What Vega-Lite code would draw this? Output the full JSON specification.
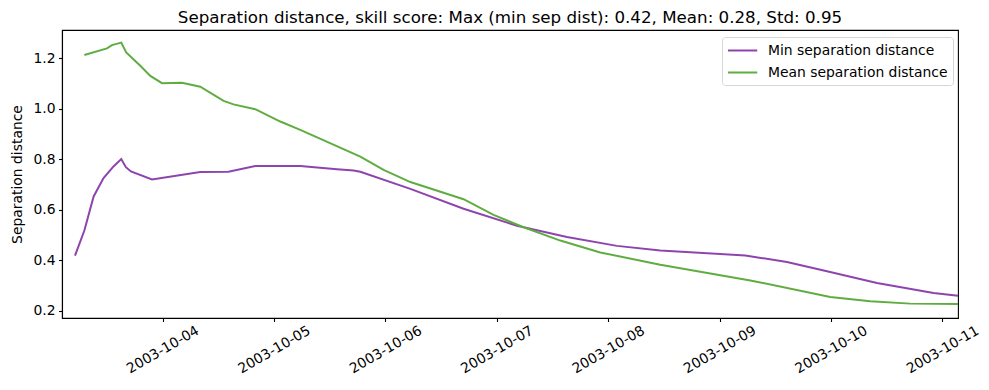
{
  "$schema": "https://vega.github.io/schema/vega-lite/v6.json",
  "autosize": {"type": "none"},
  "width": 896,
  "height": 288,
  "padding": {"left": 62, "top": 30, "right": 31, "bottom": 72},
  "background": "white",
  "config": {
    "font": "DejaVu Sans",
    "view": {"stroke": "black", "strokeWidth": 1.1},
    "axis": {
      "domainColor": "black", "domainWidth": 1.1,
      "tickColor": "black", "tickWidth": 1.1, "tickSize": 3.5,
      "labelColor": "black", "labelFont": "DejaVu Sans", "labelFontSize": 13.9,
      "titleColor": "black", "titleFont": "DejaVu Sans", "titleFontSize": 13.9, "titleFontWeight": "normal",
      "grid": false
    }
  },
  "title": {
    "text": "Separation distance, skill score: Max (min sep dist): 0.42, Mean: 0.28, Std: 0.95",
    "font": "DejaVu Sans", "fontSize": 16.7, "fontWeight": "normal", "color": "black",
    "anchor": "middle", "baseline": "bottom", "offset": 4, "dy": 18
  },
  "data": {
    "values": [
      {"time": "2003-10-03T05:08:00", "value": 0.418, "series": "Min separation distance"},
      {"time": "2003-10-03T07:09:00", "value": 0.518, "series": "Min separation distance"},
      {"time": "2003-10-03T09:09:00", "value": 0.653, "series": "Min separation distance"},
      {"time": "2003-10-03T11:17:00", "value": 0.726, "series": "Min separation distance"},
      {"time": "2003-10-03T13:26:00", "value": 0.772, "series": "Min separation distance"},
      {"time": "2003-10-03T15:06:00", "value": 0.801, "series": "Min separation distance"},
      {"time": "2003-10-03T16:06:00", "value": 0.769, "series": "Min separation distance"},
      {"time": "2003-10-03T17:11:00", "value": 0.752, "series": "Min separation distance"},
      {"time": "2003-10-03T21:43:00", "value": 0.720, "series": "Min separation distance"},
      {"time": "2003-10-04T08:07:00", "value": 0.750, "series": "Min separation distance"},
      {"time": "2003-10-04T14:12:00", "value": 0.751, "series": "Min separation distance"},
      {"time": "2003-10-04T19:58:00", "value": 0.774, "series": "Min separation distance"},
      {"time": "2003-10-05T05:40:00", "value": 0.774, "series": "Min separation distance"},
      {"time": "2003-10-05T13:34:00", "value": 0.761, "series": "Min separation distance"},
      {"time": "2003-10-05T17:10:00", "value": 0.756, "series": "Min separation distance"},
      {"time": "2003-10-05T18:36:00", "value": 0.751, "series": "Min separation distance"},
      {"time": "2003-10-06T05:23:00", "value": 0.683, "series": "Min separation distance"},
      {"time": "2003-10-06T16:51:00", "value": 0.604, "series": "Min separation distance"},
      {"time": "2003-10-07T04:21:00", "value": 0.537, "series": "Min separation distance"},
      {"time": "2003-10-07T15:07:00", "value": 0.492, "series": "Min separation distance"},
      {"time": "2003-10-08T01:54:00", "value": 0.457, "series": "Min separation distance"},
      {"time": "2003-10-08T11:14:00", "value": 0.439, "series": "Min separation distance"},
      {"time": "2003-10-09T05:33:00", "value": 0.419, "series": "Min separation distance"},
      {"time": "2003-10-09T14:31:00", "value": 0.393, "series": "Min separation distance"},
      {"time": "2003-10-09T23:08:00", "value": 0.356, "series": "Min separation distance"},
      {"time": "2003-10-10T09:55:00", "value": 0.310, "series": "Min separation distance"},
      {"time": "2003-10-10T22:06:00", "value": 0.270, "series": "Min separation distance"},
      {"time": "2003-10-11T03:22:00", "value": 0.259, "series": "Min separation distance"},
      {"time": "2003-10-03T07:09:00", "value": 1.214, "series": "Mean separation distance"},
      {"time": "2003-10-03T12:01:00", "value": 1.240, "series": "Mean separation distance"},
      {"time": "2003-10-03T13:06:00", "value": 1.253, "series": "Mean separation distance"},
      {"time": "2003-10-03T15:06:00", "value": 1.263, "series": "Mean separation distance"},
      {"time": "2003-10-03T16:10:00", "value": 1.224, "series": "Mean separation distance"},
      {"time": "2003-10-03T19:12:00", "value": 1.171, "series": "Mean separation distance"},
      {"time": "2003-10-03T21:22:00", "value": 1.131, "series": "Mean separation distance"},
      {"time": "2003-10-03T23:53:00", "value": 1.102, "series": "Mean separation distance"},
      {"time": "2003-10-04T04:11:00", "value": 1.104, "series": "Mean separation distance"},
      {"time": "2003-10-04T08:07:00", "value": 1.088, "series": "Mean separation distance"},
      {"time": "2003-10-04T13:09:00", "value": 1.032, "series": "Mean separation distance"},
      {"time": "2003-10-04T15:17:00", "value": 1.018, "series": "Mean separation distance"},
      {"time": "2003-10-04T19:58:00", "value": 0.999, "series": "Mean separation distance"},
      {"time": "2003-10-05T01:22:00", "value": 0.950, "series": "Mean separation distance"},
      {"time": "2003-10-05T05:40:00", "value": 0.917, "series": "Mean separation distance"},
      {"time": "2003-10-05T18:36:00", "value": 0.811, "series": "Mean separation distance"},
      {"time": "2003-10-05T23:37:00", "value": 0.758, "series": "Mean separation distance"},
      {"time": "2003-10-06T05:23:00", "value": 0.710, "series": "Mean separation distance"},
      {"time": "2003-10-06T16:51:00", "value": 0.642, "series": "Mean separation distance"},
      {"time": "2003-10-06T23:18:00", "value": 0.580, "series": "Mean separation distance"},
      {"time": "2003-10-07T05:47:00", "value": 0.531, "series": "Mean separation distance"},
      {"time": "2003-10-07T13:41:00", "value": 0.478, "series": "Mean separation distance"},
      {"time": "2003-10-07T22:18:00", "value": 0.431, "series": "Mean separation distance"},
      {"time": "2003-10-08T11:14:00", "value": 0.382, "series": "Mean separation distance"},
      {"time": "2003-10-09T06:38:00", "value": 0.320, "series": "Mean separation distance"},
      {"time": "2003-10-09T23:51:00", "value": 0.254, "series": "Mean separation distance"},
      {"time": "2003-10-10T08:28:00", "value": 0.237, "series": "Mean separation distance"},
      {"time": "2003-10-10T17:05:00", "value": 0.228, "series": "Mean separation distance"},
      {"time": "2003-10-11T03:22:00", "value": 0.227, "series": "Mean separation distance"}
    ]
  },
  "mark": {"type": "line", "strokeWidth": 2, "clip": true},
  "encoding": {
    "x": {
      "field": "time", "type": "temporal",
      "scale": {
        "domain": [
          {"year": 2003, "month": 10, "date": 3, "hours": 2, "minutes": 20},
          {"year": 2003, "month": 10, "date": 11, "hours": 3, "minutes": 22}
        ],
        "nice": false
      },
      "axis": {
        "title": null,
        "format": "%Y-%m-%d",
        "values": [
          {"year": 2003, "month": 10, "date": 4},
          {"year": 2003, "month": 10, "date": 5},
          {"year": 2003, "month": 10, "date": 6},
          {"year": 2003, "month": 10, "date": 7},
          {"year": 2003, "month": 10, "date": 8},
          {"year": 2003, "month": 10, "date": 9},
          {"year": 2003, "month": 10, "date": 10},
          {"year": 2003, "month": 10, "date": 11}
        ],
        "labelAngle": -30,
        "labelAlign": "center",
        "labelBaseline": "middle",
        "labelPadding": 28,
        "labelOverlap": false,
        "labelFlush": false
      }
    },
    "y": {
      "field": "value", "type": "quantitative",
      "scale": {"domain": [0.171, 1.313], "nice": false, "zero": false},
      "axis": {
        "title": "Separation distance",
        "values": [0.2, 0.4, 0.6, 0.8, 1.0, 1.2],
        "format": ".1f",
        "labelPadding": 3.5,
        "titlePadding": 8
      }
    },
    "color": {
      "field": "series", "type": "nominal",
      "scale": {
        "domain": ["Min separation distance", "Mean separation distance"],
        "range": ["#8e44ad", "#5fad41"]
      },
      "legend": {
        "title": null,
        "orient": "none",
        "legendX": 660,
        "legendY": 7,
        "symbolType": "M-1,0H2.9",
        "symbolSize": 225,
        "symbolStrokeWidth": 2,
        "labelFont": "DejaVu Sans",
        "labelFontSize": 13.9,
        "labelColor": "black",
        "labelLimit": 400,
        "labelOffset": 24,
        "strokeColor": "#d6d6d6",
        "fillColor": "white",
        "cornerRadius": 3,
        "padding": 5,
        "rowPadding": 6
      }
    }
  }
}
